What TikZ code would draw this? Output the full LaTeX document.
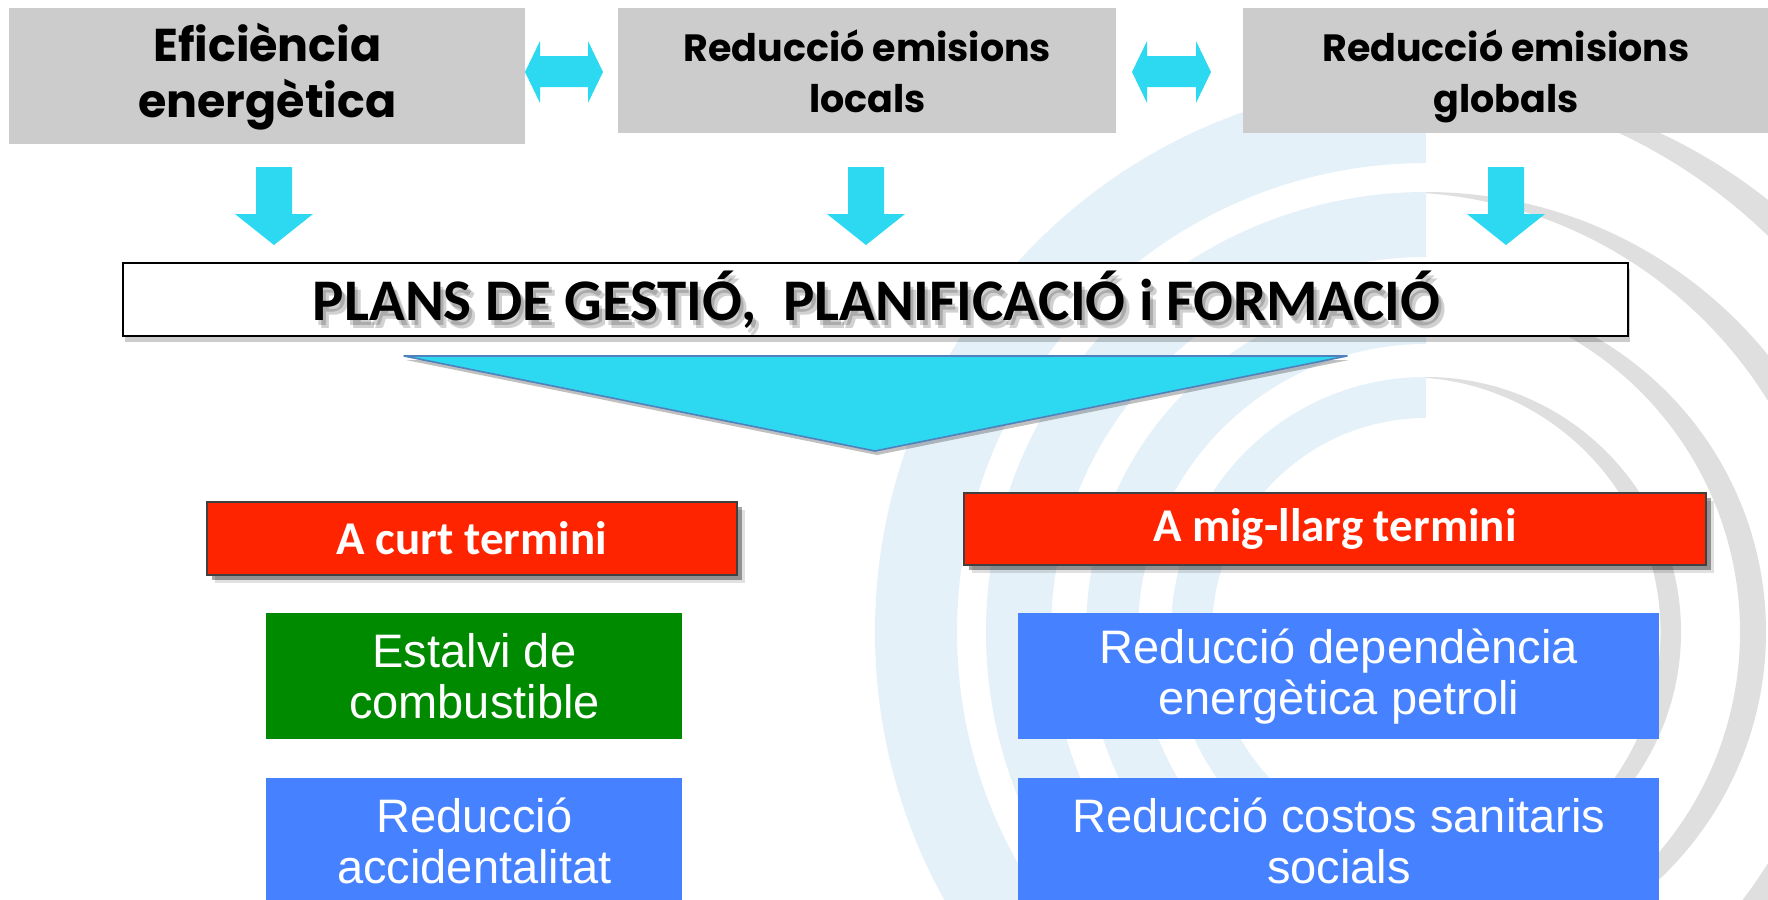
\documentclass[tikz,border=0pt]{standalone}
\usepackage{fontspec}
\newfontfamily\poppfont{Poppins}
\newfontfamily\carlfont{Carlito}
\newfontfamily\arialfont{Liberation Sans}
\usetikzlibrary{shadows,calc}
\definecolor{cyanA}{HTML}{2DD9F0}
\definecolor{grayBox}{HTML}{CCCCCC}
\definecolor{redBox}{HTML}{FF2400}
\definecolor{redBorder}{HTML}{404040}
\definecolor{greenBox}{HTML}{008A00}
\definecolor{blueBox}{HTML}{4682FF}
\definecolor{ringBlue}{HTML}{E4F1F9}
\definecolor{ringGray}{HTML}{DFDFDF}
\definecolor{triBorder}{HTML}{4F81BD}
\newcommand{\planstxt}{PLANS DE GESTIÓ,\ \ PLANIFICACIÓ i FORMACIÓ}
\begin{document}
\begin{tikzpicture}[x=0.5pt,y=-0.5pt,
  topbox/.style={fill=grayBox, anchor=north west, inner sep=0pt, align=center},
  redbox/.style={fill=redBox, draw=redBorder, line width=0.8pt, anchor=north west, inner sep=0pt,
    text=white, font=\carlfont\bfseries\fontsize{23.5}{26}\selectfont,
    drop shadow={shadow xshift=4pt, shadow yshift=-4pt, opacity=0.12, fill=black},
    drop shadow={shadow xshift=2.5pt, shadow yshift=-2.5pt, opacity=0.35, fill=black}},
  infobox/.style={anchor=north west, inner sep=0pt, align=center, text=white,
    font=\arialfont\fontsize{23.5}{25.5}\selectfont, minimum width=208pt, minimum height=63pt},
  cyanshape/.style={fill=cyanA},
  planfont/.style={font=\carlfont\bfseries\fontsize{29.5}{32}\selectfont}
]
\useasboundingbox (0,0) rectangle (1768,900);
\clip (0,0) rectangle (1768,900);
\fill[white] (0,0) rectangle (1768,900);

% background rings
\begin{scope}
  \clip (0,0) rectangle (1426,900);
  \fill[ringBlue, even odd rule]
    (1426,632) circle[radius=275.5pt] (1426,632) circle[radius=234.5pt]
    (1426,632) circle[radius=220pt]   (1426,632) circle[radius=187.5pt]
    (1426,632) circle[radius=170pt]   (1426,632) circle[radius=144pt]
    (1426,632) circle[radius=127.5pt] (1426,632) circle[radius=107pt];
\end{scope}
\begin{scope}
  \clip (1426,0) rectangle (1768,900);
  \fill[ringGray, even odd rule] (1426,632) circle[radius=275.5pt] (1385,632) circle[radius=275.5pt];
  \fill[ringGray, even odd rule] (1426,632) circle[radius=220pt] (1393.5,632) circle[radius=220pt];
  \fill[ringGray, even odd rule] (1426,632) circle[radius=170pt] (1400,632) circle[radius=170pt];
  \fill[ringGray, even odd rule] (1426,632) circle[radius=127.5pt] (1405.5,632) circle[radius=127.5pt];
\end{scope}

% top boxes
\node[topbox, minimum width=258pt, minimum height=68pt,
  font=\poppfont\bfseries\fontsize{23}{28}\selectfont] (eff) at (9,8) {Eficiència\\energètica};
\node[topbox, minimum width=249pt, minimum height=62.5pt,
  font=\poppfont\bfseries\fontsize{19}{25.5}\selectfont] (loc) at (618,8) {Reducció emisions\\locals};
\node[topbox, minimum width=262.5pt, minimum height=62.5pt,
  font=\poppfont\bfseries\fontsize{19}{25.5}\selectfont] (glob) at (1243,8) {Reducció emisions\\\raisebox{0pt}[\height][0pt]{globals}};

% double arrows
\fill[cyanshape] (525,72) -- (540,41) -- (540,56) -- (588,56) -- (588,41) -- (603,72)
  -- (588,103) -- (588,87) -- (540,87) -- (540,103) -- cycle;
\fill[cyanshape] (1132,72) -- (1147,41) -- (1147,56) -- (1196,56) -- (1196,41) -- (1211,72)
  -- (1196,103) -- (1196,87) -- (1147,87) -- (1147,103) -- cycle;

% down arrows
\foreach \cx in {274,866,1506}{
  \fill[cyanshape] (\cx-18,167) -- (\cx+18,167) -- (\cx+18,214) -- (\cx+39,214)
    -- (\cx,245) -- (\cx-39,214) -- (\cx-18,214) -- cycle;
}

% plans box
\node[draw=black, line width=1pt, fill=white, anchor=north west, inner sep=0pt,
  minimum width=752.5pt, minimum height=36.5pt,
  drop shadow={shadow xshift=1pt, shadow yshift=-3pt, opacity=0.2, fill=black}] (plans) at (122,262) {};
\foreach \dx/\dy in {4/5,7/8}{
  \node[text=black, opacity=0.18, planfont] at ($(plans.center)+(\dx,\dy)$) {\planstxt};
}
\node[text=black, planfont] (planstext) at ($(plans.center)+(1,0)$) {\planstxt};

% big triangle
\filldraw[fill=cyanA, draw=triBorder, line width=0.8pt, line join=round,
  drop shadow={shadow xshift=1pt, shadow yshift=-2pt, opacity=0.25, fill=black}]
  (404,356) -- (1347,356) -- (875,451) -- cycle;

% red headers
\node[redbox, minimum width=265pt, minimum height=36.5pt] (curt) at (206,501) {A curt termini};
\node[redbox, minimum width=371pt, minimum height=36pt] (llarg) at (963,492) {A mig-llarg termini};

% info boxes
\node[infobox, fill=greenBox] (estalvi) at (266,613) {Estalvi de\\combustible};
\node[infobox, fill=blueBox] (accid) at (266,778) {Reducció\\accidentalitat};
\node[infobox, fill=blueBox, minimum width=320.5pt] (depend) at (1018,613) {Reducció dependència\\energètica petroli};
\node[infobox, fill=blueBox, minimum width=320.5pt] (costos) at (1018,778) {Reducció costos sanitaris\\socials};
\end{tikzpicture}
\end{document}
